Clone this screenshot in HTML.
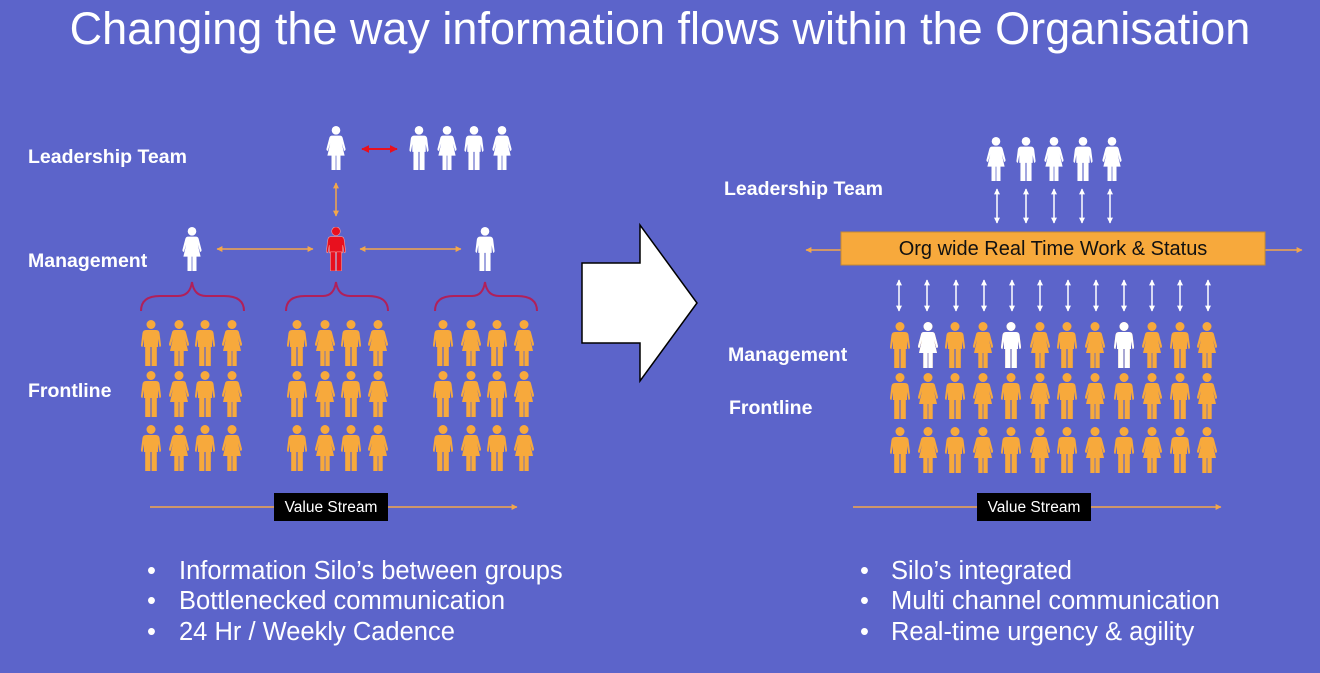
<!DOCTYPE html>
<html><head><meta charset="utf-8"><style>
html,body{margin:0;padding:0;background:#5C64CA;}
svg{display:block;font-family:"Liberation Sans",Arial,sans-serif;}
</style></head><body>
<svg width="1320" height="673" viewBox="0 0 1320 673" xmlns="http://www.w3.org/2000/svg">
<defs>
<symbol id="m" viewBox="0 0 20 46">
<circle cx="10" cy="4.5" r="4.5"/>
<path d="M5,10 H15 Q18,10 18.5,13 L20,25 Q20,27 18.5,27 L17,19 V27 H3 V19 L1.5,27 Q0,27 0,25 L1.5,13 Q2,10 5,10Z"/>
<rect x="4.2" y="26" width="5.2" height="20"/><rect x="10.6" y="26" width="5.2" height="20"/>
</symbol>
<symbol id="w" viewBox="0 0 20 46">
<circle cx="10" cy="4.5" r="4.5"/>
<path d="M6,10 H14 Q16.5,10 17,12.5 L20,24 Q20,26 18.5,26 L16,18 L19,31 H1 L4,18 L1.5,26 Q0,26 0,24 L3,12.5 Q3.5,10 6,10Z"/>
<rect x="5.3" y="30" width="4.3" height="16"/><rect x="10.4" y="30" width="4.3" height="16"/>
</symbol>
<marker id="ao" viewBox="0 0 10 10" refX="9" refY="5" markerWidth="4" markerHeight="4" orient="auto-start-reverse"><path d="M0,0 L10,5 L0,10Z" fill="#F3A74A"/></marker>
<marker id="ar" viewBox="0 0 10 10" refX="9" refY="5" markerWidth="4" markerHeight="4" orient="auto-start-reverse"><path d="M0,0 L10,5 L0,10Z" fill="#E8101E"/></marker>
<marker id="aw" viewBox="0 0 10 10" refX="9" refY="5" markerWidth="4" markerHeight="4" orient="auto-start-reverse"><path d="M0,0 L10,5 L0,10Z" fill="#fff"/></marker>
<g id="row4o" fill="#F7A93C"><use href="#m" x="0" width="20" height="46"/><use href="#w" x="28" width="20" height="46"/><use href="#m" x="54" width="20" height="46"/><use href="#w" x="81" width="20" height="46"/></g>
<g id="row12" fill="#F7A93C">
<use href="#m" x="0" width="20" height="46"/><use href="#w" x="28" width="20" height="46"/><use href="#m" x="55" width="20" height="46"/><use href="#w" x="83" width="20" height="46"/><use href="#m" x="111" width="20" height="46"/><use href="#w" x="140" width="20" height="46"/><use href="#m" x="167" width="20" height="46"/><use href="#w" x="195" width="20" height="46"/><use href="#m" x="224" width="20" height="46"/><use href="#w" x="252" width="20" height="46"/><use href="#m" x="280" width="20" height="46"/><use href="#w" x="307" width="20" height="46"/>
</g>
</defs>

<text x="660" y="44" font-size="45" fill="#fff" text-anchor="middle">Changing the way information flows within the Organisation</text>

<!-- LEFT -->
<g font-weight="bold" font-size="19.5" fill="#fff">
<text x="28" y="163">Leadership Team</text>
<text x="28" y="267">Management</text>
<text x="28" y="397">Frontline</text>
</g>
<g fill="#fff">
<use href="#w" x="326" y="126" width="20" height="44"/>
<use href="#m" x="409" y="126" width="20" height="44"/>
<use href="#w" x="437" y="126" width="20" height="44"/>
<use href="#m" x="464" y="126" width="20" height="44"/>
<use href="#w" x="492" y="126" width="20" height="44"/>
<use href="#w" x="182" y="227" width="20" height="44"/>
<use href="#m" x="475" y="227" width="20" height="44"/>
</g>
<use href="#m" x="326" y="227" width="20" height="44" fill="#E8101E" stroke="#f4a0a0" stroke-width="0.6"/>
<line x1="362" y1="149" x2="397" y2="149" stroke="#E8101E" stroke-width="2" marker-start="url(#ar)" marker-end="url(#ar)"/>
<line x1="336" y1="183" x2="336" y2="216" stroke="#F3A74A" stroke-width="1.5" marker-start="url(#ao)" marker-end="url(#ao)"/>
<line x1="217" y1="249" x2="313" y2="249" stroke="#F3A74A" stroke-width="1.5" marker-start="url(#ao)" marker-end="url(#ao)"/>
<line x1="360" y1="249" x2="461" y2="249" stroke="#F3A74A" stroke-width="1.5" marker-start="url(#ao)" marker-end="url(#ao)"/>
<g fill="none" stroke="#B0205A" stroke-width="2">
<path d="M141,311 Q141,296 160,296 H178 Q190,296 192,282 Q194,296 206,296 H224 Q244,296 244,311"/>
<path d="M286,311 Q286,296 305,296 H323 Q334,296 336,282 Q338,296 350,296 H368 Q388,296 388,311"/>
<path d="M435,311 Q435,296 454,296 H472 Q483,296 485,282 Q487,296 499,296 H517 Q537,296 537,311"/>
</g>
<use href="#row4o" x="141" y="320"/><use href="#row4o" x="287" y="320"/><use href="#row4o" x="433" y="320"/>
<use href="#row4o" x="141" y="371"/><use href="#row4o" x="287" y="371"/><use href="#row4o" x="433" y="371"/>
<use href="#row4o" x="141" y="425"/><use href="#row4o" x="287" y="425"/><use href="#row4o" x="433" y="425"/>

<line x1="150" y1="507" x2="517" y2="507" stroke="#F3A74A" stroke-width="1.5" marker-end="url(#ao)"/>
<rect x="274" y="493" width="114" height="28" fill="#000"/>
<text x="331" y="512" font-size="15.5" fill="#fff" text-anchor="middle">Value Stream</text>

<g font-size="25.5" fill="#fff">
<text x="147" y="579">•</text><text x="179" y="579">Information Silo’s between groups</text>
<text x="147" y="609">•</text><text x="179" y="609">Bottlenecked communication</text>
<text x="147" y="640">•</text><text x="179" y="640">24 Hr / Weekly Cadence</text>
</g>

<!-- Big arrow -->
<polygon points="582,263 640,263 640,225 697,303 640,381 640,343 582,343" fill="#fff" stroke="#000" stroke-width="1.5"/>

<!-- RIGHT -->
<g font-weight="bold" font-size="19.5" fill="#fff">
<text x="724" y="195">Leadership Team</text>
<text x="728" y="361">Management</text>
<text x="729" y="414">Frontline</text>
</g>
<g fill="#fff">
<use href="#w" x="986" y="137" width="20" height="44"/>
<use href="#m" x="1016" y="137" width="20" height="44"/>
<use href="#w" x="1044" y="137" width="20" height="44"/>
<use href="#m" x="1073" y="137" width="20" height="44"/>
<use href="#w" x="1102" y="137" width="20" height="44"/>
</g>
<g stroke="#fff" stroke-width="1.5">
<line x1="997" y1="189" x2="997" y2="223" marker-start="url(#aw)" marker-end="url(#aw)"/>
<line x1="1026" y1="189" x2="1026" y2="223" marker-start="url(#aw)" marker-end="url(#aw)"/>
<line x1="1054" y1="189" x2="1054" y2="223" marker-start="url(#aw)" marker-end="url(#aw)"/>
<line x1="1082" y1="189" x2="1082" y2="223" marker-start="url(#aw)" marker-end="url(#aw)"/>
<line x1="1110" y1="189" x2="1110" y2="223" marker-start="url(#aw)" marker-end="url(#aw)"/>
</g>
<line x1="806" y1="250" x2="1302" y2="250" stroke="#F3A74A" stroke-width="1.5" marker-start="url(#ao)" marker-end="url(#ao)"/>
<rect x="841" y="232" width="424" height="33" fill="#F7A93C" stroke="#C98A30" stroke-width="1"/>
<text x="1053" y="255" font-size="20" fill="#111" text-anchor="middle">Org wide Real Time Work &amp; Status</text>
<g stroke="#fff" stroke-width="1.5">
<line x1="899" y1="280" x2="899" y2="311" marker-start="url(#aw)" marker-end="url(#aw)"/>
<line x1="927" y1="280" x2="927" y2="311" marker-start="url(#aw)" marker-end="url(#aw)"/>
<line x1="956" y1="280" x2="956" y2="311" marker-start="url(#aw)" marker-end="url(#aw)"/>
<line x1="984" y1="280" x2="984" y2="311" marker-start="url(#aw)" marker-end="url(#aw)"/>
<line x1="1012" y1="280" x2="1012" y2="311" marker-start="url(#aw)" marker-end="url(#aw)"/>
<line x1="1040" y1="280" x2="1040" y2="311" marker-start="url(#aw)" marker-end="url(#aw)"/>
<line x1="1068" y1="280" x2="1068" y2="311" marker-start="url(#aw)" marker-end="url(#aw)"/>
<line x1="1096" y1="280" x2="1096" y2="311" marker-start="url(#aw)" marker-end="url(#aw)"/>
<line x1="1124" y1="280" x2="1124" y2="311" marker-start="url(#aw)" marker-end="url(#aw)"/>
<line x1="1152" y1="280" x2="1152" y2="311" marker-start="url(#aw)" marker-end="url(#aw)"/>
<line x1="1180" y1="280" x2="1180" y2="311" marker-start="url(#aw)" marker-end="url(#aw)"/>
<line x1="1208" y1="280" x2="1208" y2="311" marker-start="url(#aw)" marker-end="url(#aw)"/>
</g>
<use href="#row12" x="890" y="322"/>
<g fill="#fff">
<use href="#w" x="918" y="322" width="20" height="46"/>
<use href="#m" x="1001" y="322" width="20" height="46"/>
<use href="#m" x="1114" y="322" width="20" height="46"/>
</g>
<use href="#row12" x="890" y="373"/>
<use href="#row12" x="890" y="427"/>

<line x1="853" y1="507" x2="1221" y2="507" stroke="#F3A74A" stroke-width="1.5" marker-end="url(#ao)"/>
<rect x="977" y="493" width="114" height="28" fill="#000"/>
<text x="1034" y="512" font-size="15.5" fill="#fff" text-anchor="middle">Value Stream</text>

<g font-size="25.5" fill="#fff">
<text x="860" y="579">•</text><text x="891" y="579">Silo’s integrated</text>
<text x="860" y="609">•</text><text x="891" y="609">Multi channel communication</text>
<text x="860" y="640">•</text><text x="891" y="640">Real-time urgency &amp; agility</text>
</g>
</svg>
</body></html>
